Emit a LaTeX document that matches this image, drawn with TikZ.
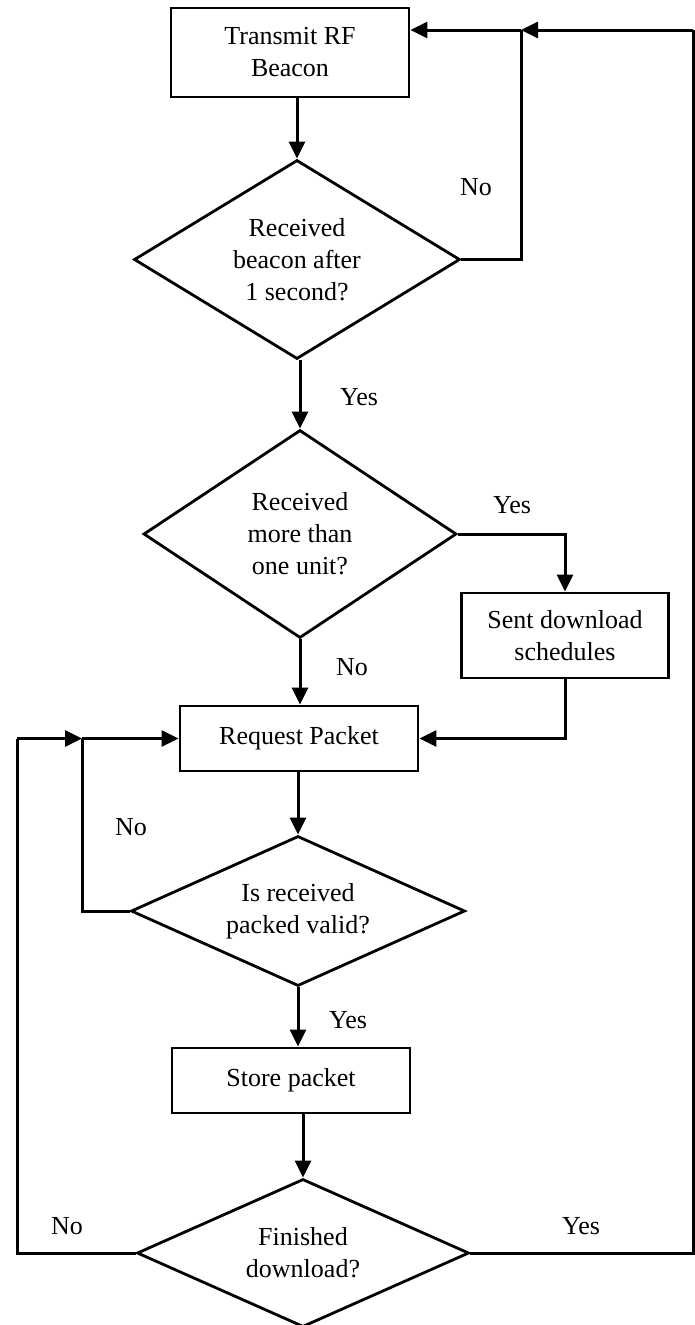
\documentclass[tikz,border=0pt]{standalone}
\usepackage{fontspec}
\setmainfont{Liberation Serif}
\usetikzlibrary{shapes.geometric,arrows.meta}
\tikzset{
  flow/.style={line width=3pt},
  arr/.style={flow,-{Triangle[length=17pt,width=16pt]}},
  procbox/.style={draw,line width=2.8pt,rectangle,inner sep=0pt,align=center,
    font=\fontsize{26}{32}\selectfont},
  decision/.style={draw,line width=2.8pt,diamond,shape aspect=#1,inner sep=0pt,align=center,
    font=\fontsize{26}{32}\selectfont},
  lbl/.style={inner sep=0pt,font=\fontsize{26}{32}\selectfont}
}
\begin{document}
\begin{tikzpicture}[x=1pt,y=-1pt]
\useasboundingbox (0,0) rectangle (695,1325);
% nodes
\node[procbox,minimum width=238pt,minimum height=89pt] (b1) at (290,52.5) {Transmit RF\\Beacon};
\node[decision=1.6,minimum width=326pt,minimum height=199pt] (d1) at (297,259.5) {Received\\beacon after\\1 second?};
\node[decision=1.6,minimum width=313pt,minimum height=208pt] (d2) at (300,534) {Received\\more than\\one unit?};
\node[procbox,minimum width=207pt,minimum height=85pt] (b2) at (565,635.5) {Sent download\\schedules};
\node[procbox,minimum width=238pt,minimum height=65pt] (b3) at (299,738.5) {Request Packet};
\node[decision=2.2,minimum width=334pt,minimum height=150pt] (d3) at (298,911) {Is received\\packed valid?};
\node[procbox,minimum width=238pt,minimum height=65pt] (b4) at (291,1080.5) {Store packet};
\node[decision=2.2,minimum width=332pt,minimum height=148pt] (d4) at (303,1253) {Finished\\download?};
% helper coordinates
\coordinate (c1) at (521,30);
\coordinate (c2) at (693,30);
\coordinate (c3) at (82,738.5);
\coordinate (c4) at (17,738.5);
% labels
\node[lbl] (l1) at (476,187) {No};
\node[lbl] (l2) at (359,397) {Yes};
\node[lbl] (l3) at (512,505) {Yes};
\node[lbl] (l4) at (352,667) {No};
\node[lbl] (l5) at (131,827) {No};
\node[lbl] (l6) at (348,1020) {Yes};
\node[lbl] (l7) at (67,1226) {No};
\node[lbl] (l8) at (581,1226) {Yes};
% connectors
\draw[arr] (b1.south -| d1.north) -- (d1.north);
\draw[flow] (d1.east) -| (c1);
\draw[arr] (c1) -- (b1.east |- c1);
\draw[flow] (d4.east) -| (c2);
\draw[arr] (c2) -- (c1);
\draw[arr] (d2.north |- d1.south) -- (d2.north);
\draw[arr] (d2.east) -| (b2.north);
\draw[arr] (d2.south) -- (d2.south |- b3.north);
\draw[arr] (b2.south) |- (b3.east);
\draw[arr] (b3.south -| d3.north) -- (d3.north);
\draw[flow] (d3.west) -| (c3);
\draw[arr] (c3) -- (b3.west);
\draw[arr] (d3.south) -- (d3.south |- b4.north);
\draw[arr] (b4.south -| d4.north) -- (d4.north);
\draw[flow] (d4.west) -| (c4);
\draw[arr] (c4) -- (c3);
\end{tikzpicture}
\end{document}
